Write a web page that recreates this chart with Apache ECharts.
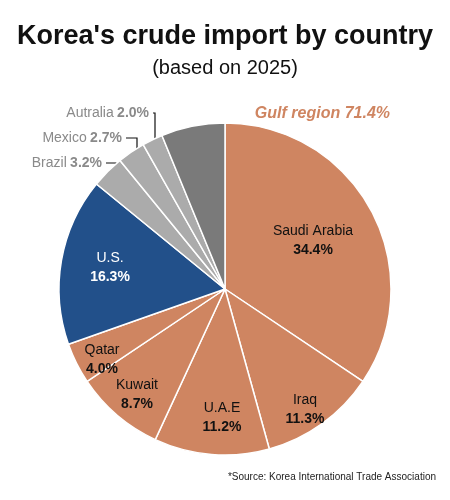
<!DOCTYPE html>
<html>
<head>
<meta charset="UTF-8">
<script src="https://cdn.jsdelivr.net/npm/echarts@6/dist/echarts.min.js"></script>
<style>
  body { margin: 0; background: #fff; }
  #chart { width: 450px; height: 500px; }
</style>
</head>
<body>
<div id="chart"></div>
<script>
const countries = ['Saudi Arabia', 'Iraq', 'U.A.E', 'Kuwait', 'Qatar', 'U.S.', 'Brazil', 'Mexico', 'Autralia', 'Others'];
const shares = [34.4, 11.3, 11.2, 8.7, 4.0, 16.3, 3.2, 2.7, 2.0, 6.2];
const sliceColors = ['#cf8561', '#cf8561', '#cf8561', '#cf8561', '#cf8561', '#22508a', '#ababab', '#ababab', '#ababab', '#7a7a7a'];

const FONT = '"Liberation Sans", Arial, sans-serif';
// outside labels for the small grey slices: [label right x, label y, elbow x, line end y]
const outsideSpots = {
  'Brazil': [102, 163, 116, 181],
  'Mexico': [122, 138, 137, 156],
  'Autralia': [149, 113, 155, 144]
};

const chart = echarts.init(document.getElementById('chart'));
chart.setOption({
  animation: false,
  title: {
    text: "Korea's crude import by country",
    subtext: '(based on 2025)',
    left: 'center',
    top: 18,
    itemGap: 8,
    textStyle: { fontFamily: FONT, fontSize: 27, fontWeight: 'bold', color: '#111' },
    subtextStyle: { fontFamily: FONT, fontSize: 20, color: '#111' }
  },
  graphic: [{
    type: 'text', right: 60, top: 106,
    style: { text: 'Gulf region 71.4%', font: 'italic bold 16px ' + FONT, fill: '#cf8561' }
  }, {
    type: 'text', right: 14, top: 472,
    style: { text: '*Source: Korea International Trade Association', font: '10px ' + FONT, fill: '#222' }
  }],
  series: [{
    type: 'pie',
    center: [225, 289],
    radius: [0, 166],
    startAngle: 90,
    clockwise: true,
    itemStyle: { borderColor: '#fff', borderWidth: 1.5 },
    data: countries.map((c, i) => ({
      name: c,
      value: shares[i],
      itemStyle: { color: sliceColors[i] },
      label: outsideSpots[c] ? {
        position: 'outside', overflow: 'none', width: 200,
        formatter: '{a|' + c + '} {b|' + shares[i].toFixed(1) + '%}',
        rich: { a: { color: '#8a8a8a', fontSize: 14, fontFamily: FONT }, b: { color: '#8a8a8a', fontSize: 14, fontWeight: 'bold', fontFamily: FONT } }
      } : (c === 'Others' ? { show: false } : {
        position: 'inner',
        formatter: '{a|' + c + '}\n{b|' + shares[i].toFixed(1) + '%}',
        rich: {
          a: { fontSize: 14, fontFamily: FONT, color: c === 'U.S.' ? '#fff' : '#111', lineHeight: 19 },
          b: { fontSize: 14, fontWeight: 'bold', fontFamily: FONT, color: c === 'U.S.' ? '#fff' : '#111', lineHeight: 19 }
        }
      }),
      labelLine: outsideSpots[c] ? { show: true, lineStyle: { color: '#111', width: 1.2 } } : { show: false }
    })),
    labelLayout: function (p) {
      const spot = outsideSpots[countries[p.dataIndex]];
      if (!spot) {
        const inner = { 'Saudi Arabia': [313, 241], 'Iraq': [305, 410], 'U.A.E': [222, 418], 'Kuwait': [137, 395], 'Qatar': [102, 360], 'U.S.': [110, 268] };
        const q = inner[countries[p.dataIndex]];
        return q ? { x: q[0], y: q[1], align: 'center', verticalAlign: 'middle' } : {};
      }
      return {
        x: spot[0], y: spot[1], align: 'right', verticalAlign: 'middle',
        labelLinePoints: [[spot[2], spot[3]], [spot[2], spot[1]], [spot[0] + 4, spot[1]]]
      };
    }
  }]
});
</script>
</body>
</html>
